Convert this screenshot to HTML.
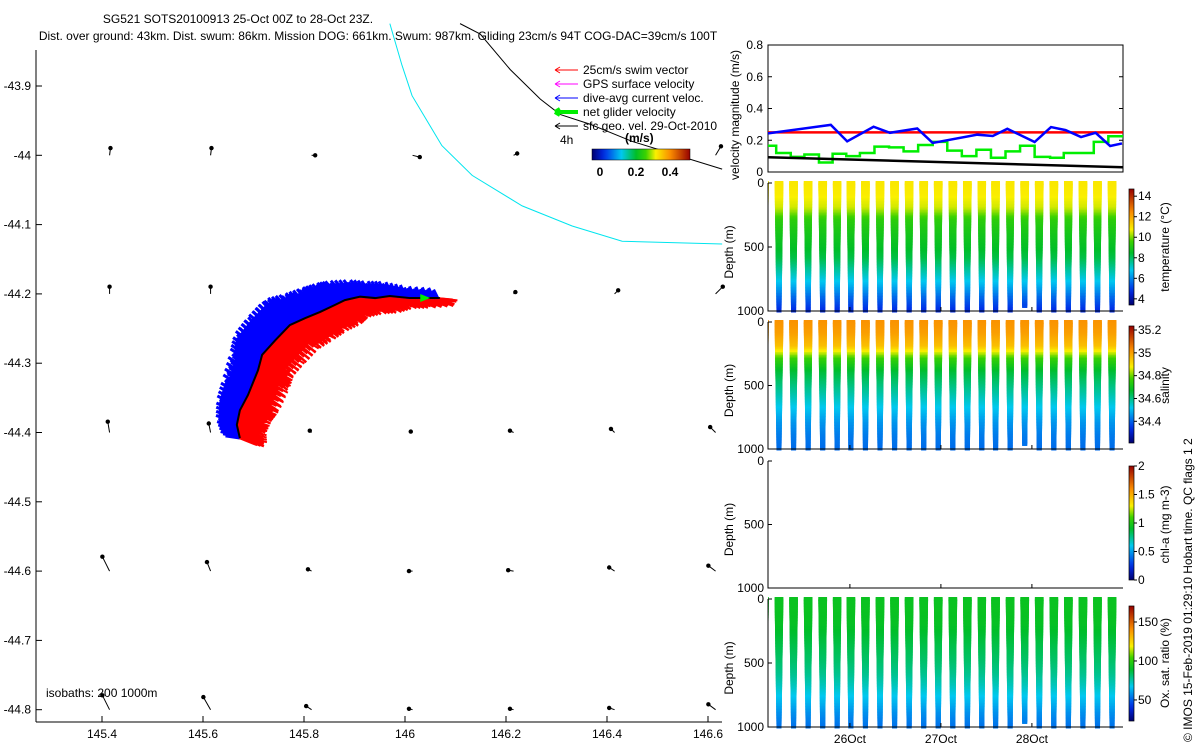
<!DOCTYPE html>
<html><head><meta charset="utf-8"><style>
body{margin:0;background:#fff}
svg{display:block;font-family:"Liberation Sans",sans-serif;font-size:12px}
</style></head><body>
<svg id="s" width="1200" height="750" viewBox="0 0 1200 750">
<rect width="1200" height="750" fill="#fff"/>
<text x="238" y="23" text-anchor="middle">SG521 SOTS20100913 25-Oct 00Z to 28-Oct 23Z.</text>
<text x="378" y="40" text-anchor="middle">Dist. over ground: 43km. Dist. swum: 86km. Mission DOG: 661km. Swum: 987km. Gliding 23cm/s 94T COG-DAC=39cm/s 100T</text>
<g id="map"></g>
<g id="right"></g>
<text transform="translate(1192,742) rotate(-90)">© IMOS 15-Feb-2019 01:29:10 Hobart time. QC flags 1  2</text>
</svg>
<script>
// ---------- data ----------
const lonTicks=[145.4,145.6,145.8,146,146.2,146.4,146.6];
const latTicks=[-43.9,-44,-44.1,-44.2,-44.3,-44.4,-44.5,-44.6,-44.7,-44.8];
const trackLon=[145.673,145.667,145.673,145.689,145.709,145.717,145.743,145.772,145.802,145.832,145.861,145.881,145.911,145.941,145.970,146.010,146.069];
const trackLat=[-44.408,-44.389,-44.368,-44.346,-44.310,-44.288,-44.267,-44.245,-44.235,-44.226,-44.216,-44.209,-44.204,-44.206,-44.203,-44.206,-44.206];
const dacU=[-0.06,-0.07,-0.08,-0.09,-0.10,-0.10,-0.10,-0.10,-0.09,-0.08,-0.08,-0.07,-0.05,-0.04,-0.03,-0.02,-0.02];
const dacV=[0.03,0.04,0.06,0.08,0.09,0.10,0.11,0.11,0.10,0.10,0.09,0.08,0.07,0.07,0.06,0.05,0.04];
const swimU=[0.10,0.11,0.12,0.12,0.12,0.12,0.12,0.12,0.12,0.11,0.11,0.10,0.10,0.10,0.10,0.09,0.08];
const swimV=[-0.04,-0.05,-0.06,-0.08,-0.09,-0.10,-0.10,-0.10,-0.09,-0.08,-0.08,-0.07,-0.07,-0.06,-0.05,-0.04,-0.03];
const iso200Lon=[145.970,145.994,146.014,146.073,146.133,146.232,146.331,146.430,146.628];
const iso200Lat=[-43.810,-43.87,-43.914,-43.986,-44.029,-44.073,-44.102,-44.124,-44.128];
const iso1000Lon=[146.109,146.149,146.208,146.268,146.307,146.366,146.45,146.628];
const iso1000Lat=[-43.81,-43.825,-43.876,-43.919,-43.941,-43.955,-43.98,-44.02];
const geoLon=[145.415,145.615,145.815,146.015,146.215,146.415,146.615];
const geoLat=[-44.0,-44.2,-44.4,-44.6,-44.8];
const geoU=[[0.005,0.005,0.02,0.04,0.02,0.02,0.03],[0,0,0,0,0.01,0.02,0.04],[-0.01,-0.01,-0.01,-0.01,-0.02,-0.02,-0.03],[-0.04,-0.02,-0.02,-0.02,-0.03,-0.03,-0.04],[-0.04,-0.04,-0.03,-0.02,-0.02,-0.03,-0.04]];
const geoV=[[0.04,0.04,0,-0.01,0.01,0.01,0.05],[0.04,0.04,0,0,0.01,0.02,0.04],[0.06,0.05,0.01,0.005,0.01,0.02,0.03],[0.08,0.05,0.01,0,0.005,0.02,0.03],[0.08,0.07,0.02,0.005,0.005,0.01,0.03]];
// velocity panel
const dacT=[25.10,25.79,25.97,26.26,26.44,26.74,26.91,27.40,27.57,27.73,28.03,28.21,28.37,28.54,28.70,28.86,28.99];
const dacMag=[0.243,0.297,0.193,0.285,0.247,0.274,0.183,0.235,0.227,0.272,0.189,0.283,0.264,0.22,0.247,0.164,0.18];
const swimMag=[0.25,0.25];
const geoT=[25.10,29.00];
const geoMag=[0.093,0.030];
const netT=[25.10,25.19,25.35,25.50,25.66,25.81,25.96,26.11,26.27,26.43,26.59,26.75,26.91,27.07,27.23,27.39,27.55,27.71,27.87,28.03,28.20,28.35,28.51,28.68,28.84];
const netMag=[0.165,0.12,0.095,0.11,0.06,0.115,0.10,0.12,0.16,0.155,0.13,0.17,0.19,0.135,0.10,0.14,0.09,0.13,0.165,0.095,0.09,0.12,0.12,0.19,0.225];
const velTicks=[0,0.2,0.4,0.6,0.8];
// dives
const diveT=[25.04,25.20,25.36,25.52,25.68,25.84,25.99,26.15,26.31,26.47,26.63,26.79,26.95,27.11,27.27,27.43,27.58,27.74,27.90,28.06,28.22,28.38,28.54,28.70,28.86,29.02];
const diveMax=[1000,1000,1000,1000,1000,1000,1000,1000,1000,1000,1000,1000,1000,1000,1000,1000,1000,1000,960,1000,1000,1000,1000,1000,1000,1000];
const profDepth=[0,100,200,300,400,500,600,700,800,900,1000];
const tempProf=[10.9,10.8,10.5,9.3,8.9,8.6,8.2,7.4,6.6,5.6,4.8];
const salProf=[35.02,35.0,34.95,34.76,34.66,34.61,34.56,34.51,34.46,34.43,34.41];
const oxProf=[92,92,91,88,85,82,78,72,65,58,53];
const dayTicks=[26,27,28];
const dayLabels=["26Oct","27Oct","28Oct"];

// ---------- helpers ----------
const NS="http://www.w3.org/2000/svg";
function mk(tag,attrs,parent,txt){const e=document.createElementNS(NS,tag);for(const k in attrs)e.setAttribute(k,attrs[k]);if(txt!==undefined)e.textContent=txt;parent.appendChild(e);return e;}
const cmS=[0,0.12,0.3,0.45,0.55,0.65,0.8,1];
const cmC=[[0,0,110],[0,40,230],[0,200,240],[0,190,40],[60,210,0],[250,240,0],[250,140,0],[150,0,0]];
function cmap(t){t=Math.max(0,Math.min(1,t));for(let i=1;i<cmS.length;i++)if(t<=cmS[i]){const f=(t-cmS[i-1])/(cmS[i]-cmS[i-1]);const a=cmC[i-1],b=cmC[i];return `rgb(${Math.round(a[0]+f*(b[0]-a[0]))},${Math.round(a[1]+f*(b[1]-a[1]))},${Math.round(a[2]+f*(b[2]-a[2]))})`;}return 'rgb(150,0,0)';}
function interp(xs,ys,x){if(x<=xs[0])return ys[0];for(let i=1;i<xs.length;i++)if(x<=xs[i]){const f=(x-xs[i-1])/(xs[i]-xs[i-1]);return ys[i-1]+f*(ys[i]-ys[i-1]);}return ys[ys.length-1];}

// ---------- map ----------
const map=document.getElementById('map');
const mx=lon=>102+(lon-145.4)*505, my=lat=>86+(-43.9-lat)*693;
let e;
e=mk('line',{x1:36,y1:50,x2:36,y2:722,stroke:'#000'},map);

e=mk('line',{x1:36,y1:722,x2:722,y2:722,stroke:'#000'},map);

lonTicks.forEach(v=>{mk('line',{x1:mx(v),y1:722,x2:mx(v),y2:716,stroke:'#000'},map);
 e=mk('text',{x:mx(v),y:738,'text-anchor':'middle'},map,String(v));
 });
latTicks.forEach(v=>{mk('line',{x1:36,y1:my(v),x2:42,y2:my(v),stroke:'#000'},map);
 e=mk('text',{x:31,y:my(v)+4,'text-anchor':'end'},map,String(v));
 });
e=mk('polyline',{points:iso200Lon.map((l,i)=>mx(l)+','+my(iso200Lat[i])).join(' '),fill:'none',stroke:'#00e5ee','stroke-width':1},map);

e=mk('polyline',{points:iso1000Lon.map((l,i)=>mx(l)+','+my(iso1000Lat[i])).join(' '),fill:'none',stroke:'#000','stroke-width':1},map);

const gs=180;
geoLat.forEach((la,j)=>geoLon.forEach((lo,i)=>{const x=mx(lo),y=my(la),x2=x+geoU[j][i]*gs,y2=y-geoV[j][i]*gs;
 const g=mk('g',{},map);
 mk('line',{x1:x,y1:y,x2:x2,y2:y2,stroke:'#000','stroke-width':1},g);mk('circle',{cx:x2,cy:y2,r:2.2,fill:'#000'},g);}));
const vs=230;
const vecG=mk('g',{},map);
for(let i=0;i<trackLon.length-1;i++){for(let k=0;k<14;k++){const f=k/14;
 const x=mx(trackLon[i]+f*(trackLon[i+1]-trackLon[i])),y=my(trackLat[i]+f*(trackLat[i+1]-trackLat[i]));
 const bu=dacU[i]+f*(dacU[i+1]-dacU[i]),bv=dacV[i]+f*(dacV[i+1]-dacV[i]);
 const su=swimU[i]+f*(swimU[i+1]-swimU[i]),sv=swimV[i]+f*(swimV[i+1]-swimV[i]);
 const w=(k%3)*0.15+0.75;
 mk('line',{x1:x,y1:y,x2:x+bu*vs*w,y2:y-bv*vs*w,stroke:'#0000ff','stroke-width':3},vecG);
 mk('line',{x1:x,y1:y,x2:x+bu*vs*w-4,y2:y-bv*vs*w+3,stroke:'#0000ff','stroke-width':3},vecG);
 mk('line',{x1:x,y1:y,x2:x+su*vs*w,y2:y-sv*vs*w,stroke:'#ff0000','stroke-width':2.5},vecG);
 mk('line',{x1:x,y1:y,x2:x+su*vs*w+3,y2:y-sv*vs*w-4,stroke:'#ff0000','stroke-width':2},vecG);}}
e=mk('polyline',{points:trackLon.map((l,i)=>mx(l)+','+my(trackLat[i])).join(' '),fill:'none',stroke:'#000','stroke-width':2},map);

e=mk('path',{d:`M${mx(146.05)},${my(-44.206)} l-10,-4 l0,8 z`,fill:'#00ee00'},map);

const leg=[['#ff0000','25cm/s swim vector',1],['#ff00ff','GPS surface velocity',1],['#0000ff','dive-avg current veloc.',1],['#00ee00','net glider velocity',4],['#000','sfc geo. vel. 29-Oct-2010',1]];
leg.forEach((l,i)=>{const y=70+i*14;const g=mk('g',{},map);
 mk('line',{x1:556,y1:y,x2:578,y2:y,stroke:l[0],'stroke-width':l[2]},g);mk('path',{d:`M555,${y} l5,-3 M555,${y} l5,3`,stroke:l[0],'stroke-width':l[2]},g);
 mk('text',{x:583,y:y+4},g,l[1]);});
e=mk('text',{x:560,y:144},map,'4h');
const dg=mk('defs',{},document.getElementById('s'));
const lg=mk('linearGradient',{id:'jh',x1:0,x2:1,y1:0,y2:0},dg);
const lgv=mk('linearGradient',{id:'jv',x1:0,x2:0,y1:1,y2:0},dg);
for(let i=0;i<=20;i++){mk('stop',{offset:i/20,'stop-color':cmap(i/20)},lg);mk('stop',{offset:i/20,'stop-color':cmap(i/20)},lgv);}
e=mk('rect',{x:592,y:149,width:98,height:11,fill:'url(#jh)',stroke:'#000','stroke-width':0.5},map);

mk('text',{x:625,y:142,'font-weight':'bold'},map,'(m/s)');
[['0',600],['0.2',636],['0.4',670]].forEach(t=>{e=mk('text',{x:t[1],y:176,'text-anchor':'middle','font-weight':'bold'},map,t[0]);});
e=mk('text',{x:46,y:697},map,'isobaths:   200  1000m');

// ---------- right panels ----------
const R=document.getElementById('right');
const L=768,Rr=1123,tx=t=>L+(t-25.1)*91;
const vy=v=>172-v*158.75;
e=mk('rect',{x:L,y:45,width:Rr-L,height:127,fill:'none',stroke:'#000'},R);
velTicks.forEach(v=>{mk('line',{x1:L,y1:vy(v),x2:L+4,y2:vy(v),stroke:'#000'},R);mk('line',{x1:Rr,y1:vy(v),x2:Rr-4,y2:vy(v),stroke:'#000'},R);
 e=mk('text',{x:763,y:vy(v)+4,'text-anchor':'end'},R,String(v));});
e=mk('text',{transform:'translate(739,180) rotate(-90)'},R,'velocity magnitude (m/s)');
let np='';netT.forEach((t,i)=>{const x1=tx(t),x2=i<netT.length-1?tx(netT[i+1]):Rr;np+=(i?'L':'M')+x1+','+vy(netMag[i])+'L'+x2+','+vy(netMag[i]);});
e=mk('path',{d:np,fill:'none',stroke:'#00ee00','stroke-width':2.5},R);
e=mk('polyline',{points:geoT.map((t,i)=>tx(t)+','+vy(geoMag[i])).join(' '),fill:'none',stroke:'#000','stroke-width':2.5},R);
e=mk('polyline',{points:geoT.map((t,i)=>tx(t)+','+vy(swimMag[i])).join(' '),fill:'none',stroke:'#ff0000','stroke-width':2.5},R);
e=mk('polyline',{points:dacT.map((t,i)=>tx(t)+','+vy(dacMag[i])).join(' '),fill:'none',stroke:'#0000ff','stroke-width':2.5},R);
const panels=[
 {top:183,bot:311,prof:tempProf,cmin:3.4,cmax:14.7,ct:189,cb:305,ticks:[4,6,8,10,12,14],label:'temperature (°C)',name:'temperature'},
 {top:322,bot:449,prof:salProf,cmin:34.21,cmax:35.235,ct:326,cb:443,ticks:[34.4,34.6,34.8,35,35.2],label:'salinity',name:'salinity'},
 {top:461,bot:588,prof:null,cmin:0,cmax:2,ct:466,cb:580,ticks:[0,0.5,1,1.5,2],label:'chl-a (mg m-3)',name:'chlorophyll'},
 {top:599,bot:727,prof:oxProf,cmin:23,cmax:170.5,ct:606,cb:721,ticks:[50,100,150],label:'Ox. sat. ratio (%)',name:'oxygen'}];
panels.forEach((p,pi)=>{
 const g=mk('g',{},R);
 const dy=d=>p.top+(d/1000)*(p.bot-p.top);
 const cp=mk('clipPath',{id:'c'+pi},dg);mk('rect',{x:L,y:p.top-4,width:Rr-L,height:p.bot-p.top+8},cp);
 if(p.prof){const sg=mk('g',{'clip-path':`url(#c${pi})`},g);
  for(let k=0;k<diveT.length-1;k++){const P=diveT[k+1]-diveT[k],t0=diveT[k],tm=t0+P*0.13,t1=t0+P*0.26,md=diveMax[k];
   for(let d=0;d<=md;d+=12){const c=cmap((interp(profDepth,p.prof,d)-p.cmin)/(p.cmax-p.cmin));const y=dy(d);
    [t0+(tm-t0)*d/md,t1-(t1-tm)*d/md].forEach(t=>{const x=tx(t);mk('rect',{x:x-2.5,y:y-2,width:5,height:4,fill:c},sg);});}}}
 e=mk('path',{d:`M${L},${p.top}V${p.bot}H${Rr}`,fill:'none',stroke:'#000'},g);
 [0,500,1000].forEach(d=>{mk('line',{x1:L,y1:dy(d),x2:L+4,y2:dy(d),stroke:'#000'},g);
  e=mk('text',{x:764,y:dy(d)+4,'text-anchor':'end'},g,String(d));});
 dayTicks.forEach(t=>{mk('line',{x1:tx(t),y1:p.bot,x2:tx(t),y2:p.bot-4,stroke:'#000'},g);});
 e=mk('text',{transform:`translate(733,${(p.top+p.bot)/2+5}) rotate(-90)`,'text-anchor':'middle'},g,'Depth (m)');
 const ct=p.ct,cb=p.cb;
 e=mk('rect',{x:1129,y:ct,width:5,height:cb-ct,fill:'url(#jv)',stroke:'#000','stroke-width':0.7},g);
 p.ticks.forEach(v=>{const y=cb-(v-p.cmin)/(p.cmax-p.cmin)*(cb-ct);mk('line',{x1:1134,y1:y,x2:1137,y2:y,stroke:'#000'},g);
  e=mk('text',{x:1138,y:y+4},g,String(v));});
 e=mk('text',{transform:`translate(1169,${(p.top+p.bot)/2}) rotate(-90)`,'text-anchor':'middle'},g,p.label);
});
dayTicks.forEach((t,i)=>{e=mk('text',{x:tx(t),y:743,'text-anchor':'middle'},R,dayLabels[i]);});
</script>
</body></html>
